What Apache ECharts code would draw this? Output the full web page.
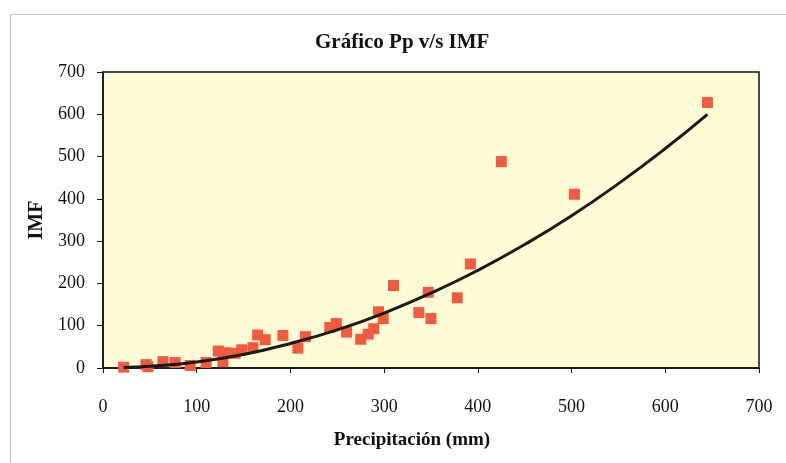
<!DOCTYPE html>
<html>
<head>
<meta charset="utf-8">
<script src="https://cdn.jsdelivr.net/npm/echarts@6/dist/echarts.min.js"></script>
<style>
html,body{margin:0;padding:0;background:#fff;}
#c{width:786px;height:463px;}
</style>
</head>
<body>
<div id="c"></div>
<script>
// Observed data (Precipitación mm, IMF)
const precip = [22, 46, 48, 64, 77, 93, 110, 123, 128, 130, 141, 148, 160, 165, 173, 192, 208, 216, 242, 249, 260, 275, 283, 289, 294, 299, 310, 337, 347, 350, 378, 392, 425, 503, 645];
const imf    = [2, 8, 3, 15, 13, 6, 13, 40, 15, 36, 35, 43, 48, 78, 67, 77, 47, 74, 96, 105, 85, 68, 80, 93, 133, 117, 195, 131, 179, 117, 166, 246, 488, 411, 628];
// Trend line
const trendPrecip = [22, 50, 100, 150, 200, 250, 300, 350, 400, 450, 500, 550, 600, 645];
const trendImf    = [1, 4, 14, 32, 58, 90, 130, 177, 231, 292, 360, 436, 519, 600];
const xTicks = [0, 100, 200, 300, 400, 500, 600, 700];
const yTicks = [0, 100, 200, 300, 400, 500, 600, 700];

const font = '"Liberation Serif", "Times New Roman", serif';
const chart = echarts.init(document.getElementById('c'), null, {renderer: 'canvas'});
chart.setOption({
  backgroundColor: '#ffffff',
  animation: false,
  graphic: [{
    type: 'rect', shape: {x: 10.5, y: 14.5, width: 800, height: 470},
    style: {fill: 'none', stroke: '#bdbdbd', lineWidth: 1}, z: -1
  }],
  title: {
    text: 'Gráfico Pp v/s IMF', left: 310, top: 27,
    textStyle: {fontFamily: font, fontWeight: 'bold', fontSize: 21, color: '#111'}
  },
  grid: {left: 103, right: 27, top: 72, bottom: 95, show: true, backgroundColor: '#fdfcd6', borderColor: '#111', borderWidth: 1.5},
  xAxis: {
    type: 'value', min: xTicks[0], max: xTicks[xTicks.length - 1], interval: 100,
    name: 'Precipitación (mm)', nameLocation: 'middle', nameGap: 63,
    nameTextStyle: {fontFamily: font, fontWeight: 'bold', fontSize: 19, color: '#111', padding: [0, 38, 0, 0]},
    axisLine: {lineStyle: {color: '#111', width: 1.5}},
    axisTick: {show: true, inside: false, length: 5, lineStyle: {color: '#111'}},
    axisLabel: {fontFamily: font, fontSize: 18, color: '#111', margin: 30},
    splitLine: {show: false}
  },
  yAxis: {
    type: 'value', min: yTicks[0], max: yTicks[yTicks.length - 1], interval: 100,
    name: 'IMF', nameLocation: 'middle', nameGap: 52, nameRotate: 90,
    nameTextStyle: {fontFamily: font, fontWeight: 'bold', fontSize: 20, color: '#111'},
    axisLine: {show: true, lineStyle: {color: '#111', width: 1.5}},
    axisTick: {show: true, inside: false, length: 6, lineStyle: {color: '#111'}},
    axisLabel: {fontFamily: font, fontSize: 18, color: '#111', margin: 18},
    splitLine: {show: false}
  },
  series: [
    {
      type: 'scatter', symbol: 'rect', symbolSize: 11,
      itemStyle: {color: '#f45a3e', opacity: 1},
      data: precip.map((p, i) => [p, imf[i]]), z: 2
    },
    {
      type: 'line', smooth: true, symbol: 'none',
      lineStyle: {color: '#1a1a1a', width: 3},
      data: trendPrecip.map((p, i) => [p, trendImf[i]]), z: 3
    }
  ]
});
</script>
</body>
</html>
